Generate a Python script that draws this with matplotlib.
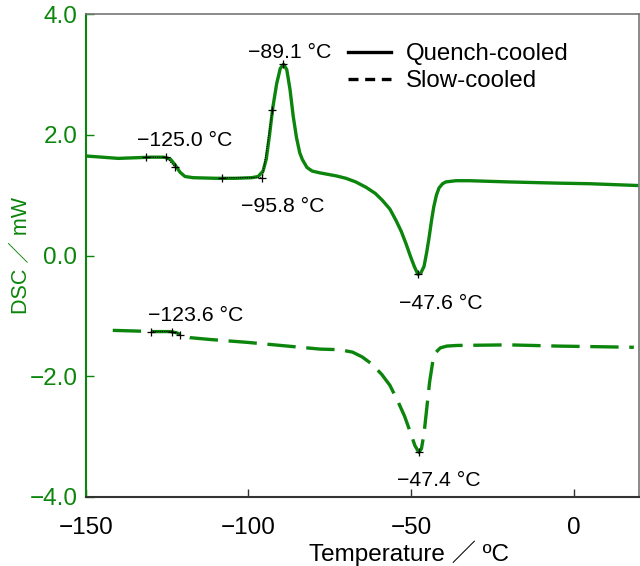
import matplotlib.pyplot as plt

GREEN = "#0b850b"

# quench-cooled DSC trace (temperature in degC, heat flow in mW)
quench_t = [-150, -145, -140, -135, -130, -126, -124, -122.5, -121, -119.5, -117, -110, -104, -99, -97,
            -95.5, -94.5, -93.5, -92.5, -91.3, -90.2, -89.2, -88.2, -87.2, -86.2, -85.2, -84.2, -83.4,
            -82, -80.4, -78, -76, -73, -70, -67, -63.8, -61, -58.9, -56.5, -54.6, -53, -51.5, -50.2,
            -49, -47.9, -47, -46, -45.2, -44.5, -43.7, -43, -42.2, -41.4, -40.3, -39.3, -36.2, -32,
            -20, -5, 5, 20]
quench_q = [1.65, 1.63, 1.61, 1.62, 1.63, 1.63, 1.60, 1.50, 1.38, 1.31, 1.29, 1.28, 1.28, 1.29, 1.31,
            1.40, 1.60, 2.00, 2.45, 2.85, 3.10, 3.17, 3.08, 2.75, 2.30, 1.95, 1.70, 1.59,
            1.46, 1.40, 1.37, 1.35, 1.32, 1.28, 1.22, 1.13, 1.03, 0.92, 0.77, 0.58, 0.40, 0.19, -0.01,
            -0.18, -0.31, -0.29, -0.18, 0.05, 0.28, 0.58, 0.81, 1.00, 1.12, 1.19, 1.22, 1.24, 1.24,
            1.22, 1.20, 1.19, 1.16]

# slow-cooled DSC trace
slow_t = [-141.7, -135, -129, -124, -122, -120.5, -118, -112, -100, -88, -78, -72, -68, -65, -62, -59,
          -56.5, -54, -52, -50.2, -48.8, -47.6, -46.8, -46, -45.2, -44.3, -43.3, -42.3, -41, -39, -36,
          -20, -5, 18.5]
slow_q = [-1.24, -1.25, -1.26, -1.26, -1.28, -1.32, -1.36, -1.39, -1.44, -1.50, -1.55, -1.56, -1.60,
          -1.68, -1.80, -1.97, -2.15, -2.42, -2.66, -2.93, -3.15, -3.26, -3.20, -2.95, -2.55, -2.10,
          -1.75, -1.60, -1.53, -1.50, -1.49, -1.48, -1.50, -1.52]

# analysis construction lines (tangents) and their marker points
tangents = [
    ([-131.5, -125.2, -122.7], [1.63, 1.63, 1.47]),
    ([-108.0, -95.7, -92.6], [1.29, 1.29, 2.41]),
    ([-130.0, -123.6, -120.9], [-1.26, -1.26, -1.31]),
]
peaks_t = [-89.3, -47.9, -47.4]
peaks_q = [3.17, -0.31, -3.26]

labels = ["\u2212125.0 \u00b0C", "\u221289.1 \u00b0C", "\u221295.8 \u00b0C", "\u221247.6 \u00b0C",
          "\u2212123.6 \u00b0C", "\u221247.4 \u00b0C"]
label_t = [-119.6, -87.4, -89.3, -40.8, -116.3, -41.4]
label_q = [1.90, 3.37, 0.81, -0.79, -0.99, -3.72]

plt.rcParams['font.family'] = ['Liberation Sans', 'Noto Sans CJK JP', 'DejaVu Sans']

fig = plt.figure(figsize=(6.4, 5.66), dpi=100)
ax = fig.add_axes([0.134, 0.122, 0.864, 0.853])

ax.plot(quench_t, quench_q, color=GREEN, lw=2.4, solid_capstyle='butt')
ax.plot(slow_t, slow_q, color=GREEN, lw=2.4, dashes=(8.5, 3.2))

for tx, ty in tangents:
    ax.plot(tx, ty, color='black', lw=0.8, ls=(0, (1, 1)), marker='+', ms=6, mew=0.9)
ax.plot(peaks_t, peaks_q, ls='none', color='black', marker='+', ms=6, mew=0.9)

for s, tx, ty in zip(labels, label_t, label_q):
    ax.text(tx, ty, s, fontsize=15.3, ha='center', va='center')

# legend drawn in black
h1, = ax.plot([], [], color='black', lw=2.4, label='Quench-cooled')
h2, = ax.plot([], [], color='black', lw=2.4, dashes=(3.0, 2.0), label='Slow-cooled')
ax.legend(handles=[h1, h2], loc='upper left', bbox_to_anchor=(0.435, 0.985), frameon=False,
          fontsize=17.3, handlelength=1.8, handletextpad=0.6, labelspacing=0.22)

ax.set_xlim(-150, 20)
ax.set_ylim(-4, 4)
ax.set_xticks([-150, -100, -50, 0])
ax.set_xticklabels(["\u2212150", "\u2212100", "\u221250", "0"])
ax.set_yticks([-4, -2, 0, 2, 4])
ax.set_yticklabels(["\u22124.0", "\u22122.0", "0.0", "2.0", "4.0"])
ax.tick_params(axis='x', direction='in', length=6, width=1, pad=14.5, labelsize=17.5, color='#333333')
ax.tick_params(axis='y', direction='in', length=6, width=1, pad=6, labelsize=17.5,
               color=GREEN, labelcolor=GREEN)

ax.spines['left'].set_color(GREEN)
ax.spines['left'].set_linewidth(1.5)
ax.spines['bottom'].set_color('#333333')
ax.spines['bottom'].set_linewidth(1.5)
for side in ['top', 'right']:
    ax.spines[side].set_color('#777777')
    ax.spines[side].set_linewidth(1.2)

ax.set_ylabel("DSC \uff0f mW", fontsize=15.5, color=GREEN)
ax.yaxis.label.set_va('center')
ax.yaxis.set_label_coords(-0.116, 0.5)
ax.set_xlabel("Temperature \uff0f \u00baC", fontsize=17.5)
ax.xaxis.label.set_va('center')
ax.xaxis.set_label_coords(0.584, -0.116)

fig.savefig("out.png", dpi=100)
